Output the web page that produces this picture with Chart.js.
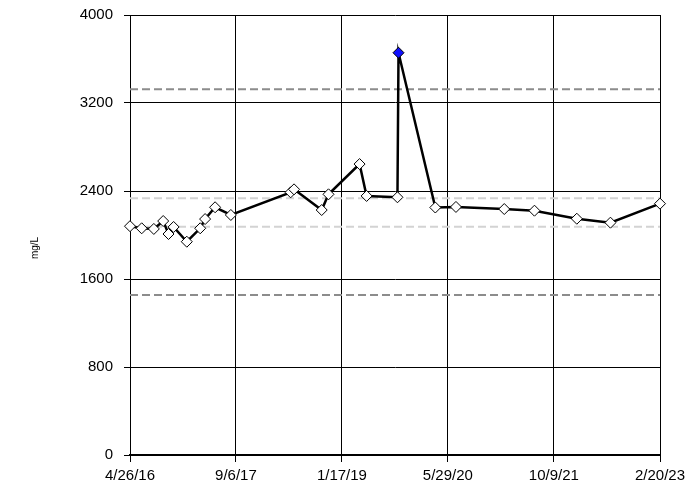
<!DOCTYPE html>
<html>
<head>
<meta charset="utf-8">
<script src="https://cdn.jsdelivr.net/npm/chart.js@4"></script>
<style>
  html, body { margin: 0; padding: 0; background: #fff; }
  #wrap { width: 698px; height: 487px; }
</style>
</head>
<body>
<div id="wrap"><canvas id="chart" width="698" height="487"></canvas></div>
<script>
// Sample dates and results (mg/L)
const sampleDates = [
    '2016-04-26', '2016-06-20', '2016-08-16', '2016-09-29', '2016-10-24', '2016-11-17',
    '2017-01-18', '2017-03-22', '2017-04-14', '2017-05-31', '2017-08-13',
    '2018-05-21', '2018-06-06', '2018-10-14', '2018-11-15',
    '2019-04-10', '2019-05-13', '2019-10-05', '2019-10-10',
    '2020-03-31', '2020-07-06', '2021-02-18', '2021-07-10',
    '2022-01-25', '2022-07-02', '2023-02-20'
];
const sampleValues = [
    2080, 2061, 2055, 2127, 2009, 2073,
    1939, 2061, 2145, 2252, 2182,
    2388, 2415, 2227, 2370,
    2645, 2355, 2343, 3657,
    2250, 2255, 2236, 2221,
    2148, 2112, 2285
];
// flagged result (drawn in blue)
const flaggedDates = ['2019-10-10'];

// limit lines
const outerLimits = [3325, 1455];
const innerLimits = [2335, 2075];

// axis ticks
const xTickDates = ['2016-04-26', '2017-09-06', '2019-01-17', '2020-05-29', '2021-10-09', '2023-02-20'];
const yTicks = [0, 800, 1600, 2400, 3200, 4000];
const yTitle = 'mg/L';

function toDay(s) {
    const p = s.split('-').map(Number);
    return Date.UTC(p[0], p[1] - 1, p[2]) / 86400000;
}

function fmtDay(d) {
    const dt = new Date(Math.round(d) * 86400000);
    return (dt.getUTCMonth() + 1) + '/' + dt.getUTCDate() + '/' + String(dt.getUTCFullYear()).slice(2);
}

const xMin = toDay(xTickDates[0]);
const xMax = toDay(xTickDates[xTickDates.length - 1]);

const points = sampleDates.map((d, i) => ({ x: toDay(d), y: sampleValues[i] }));

function limitLine(v) {
    return [{ x: xMin, y: v }, { x: xMax, y: v }];
}

const datasets = [];
innerLimits.forEach(v => datasets.push({
    data: limitLine(v),
    borderColor: '#d3d3d3',
    borderWidth: 2,
    borderDash: [8, 4],
    pointRadius: 0,
    order: 3
}));
outerLimits.forEach(v => datasets.push({
    data: limitLine(v),
    borderColor: '#8c8c8c',
    borderWidth: 2,
    borderDash: [8, 4],
    pointRadius: 0,
    order: 2
}));
datasets.push({
    data: points,
    borderColor: '#000',
    borderWidth: 2.5,
    pointStyle: 'rectRot',
    pointRadius: 5.5,
    pointBorderWidth: 1,
    pointBorderColor: '#000',
    pointBackgroundColor: ctx => flaggedDates.includes(sampleDates[ctx.dataIndex]) ? '#1010ff' : '#fff',
    clip: false,
    order: 1
});

// rotated y axis title on the far left
const yTitlePlugin = {
    id: 'yTitle',
    afterDraw(chart) {
        const ctx = chart.ctx;
        ctx.save();
        ctx.translate(35, 248);
        ctx.rotate(-Math.PI / 2);
        ctx.font = '10px "Liberation Sans", Arial';
        ctx.fillStyle = '#000';
        ctx.textAlign = 'center';
        ctx.textBaseline = 'middle';
        ctx.fillText(yTitle, 0, 0);
        ctx.restore();
    }
};

const tickFont = { family: '"Liberation Sans", Arial', size: 15 };

new Chart(document.getElementById('chart').getContext('2d'), {
    type: 'line',
    data: { datasets },
    options: {
        responsive: false,
        animation: false,
        events: [],
        layout: { padding: { top: 15, right: 38, left: 0, bottom: 0 } },
        plugins: { legend: { display: false }, tooltip: { enabled: false } },
        scales: {
            x: {
                type: 'linear',
                min: xMin,
                max: xMax,
                afterBuildTicks: scale => {
                    scale.ticks = xTickDates.map(d => ({ value: toDay(d) }));
                },
                afterFit: scale => {
                    scale.height = 32;
                    scale.paddingLeft = 0;
                    scale.paddingRight = 0;
                },
                grid: { color: '#000', lineWidth: 1, tickLength: 7, drawTicks: true },
                border: { color: '#000', width: 2 },
                ticks: {
                    color: '#000',
                    font: tickFont,
                    padding: 5,
                    maxRotation: 0,
                    autoSkip: false,
                    callback: v => fmtDay(v)
                }
            },
            y: {
                min: 0,
                max: 4000,
                afterBuildTicks: scale => {
                    scale.ticks = yTicks.map(v => ({ value: v }));
                },
                afterFit: scale => {
                    scale.width = 130;
                    scale.paddingTop = 0;
                    scale.paddingBottom = 0;
                },
                grid: { color: '#000', lineWidth: 1, tickLength: 6 },
                border: { color: '#000', width: 1 },
                ticks: { color: '#000', font: tickFont, padding: 11, callback: v => String(v) }
            }
        }
    },
    plugins: [yTitlePlugin]
});
</script>
</body>
</html>
